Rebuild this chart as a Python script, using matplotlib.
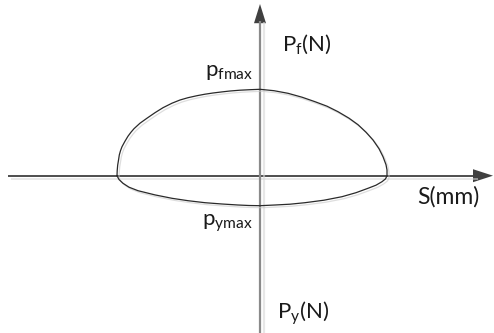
import matplotlib
matplotlib.use("Agg")
import matplotlib.pyplot as plt
import matplotlib.patheffects as pe

plt.rcParams['font.family'] = ['Lato', 'DejaVu Sans']
plt.rcParams['mathtext.fontset'] = 'custom'
plt.rcParams['mathtext.rm'] = 'Lato'
plt.rcParams['mathtext.it'] = 'Lato'

# Loop (S horizontal, force vertical; origin at axis crossing)
upper_s = [-143, -142.8, -142.3, -141.5, -140.7, -139.5, -138, -135, -132, -129, -126, -120, -113, -105,
           -97, -88, -80, -72, -63, -55, -47, -38, -30, -20, -10, 0,
           14, 28, 42, 55, 67, 78, 89, 98, 106, 113, 119, 123, 126, 127, 127]
upper_f = [0, 5, 10.7, 15.5, 20.7, 25, 29, 34.5, 39.5, 43.5, 47, 52.5, 57.5, 63,
           68, 72.5, 75.7, 78, 80, 81.5, 82.7, 83.8, 84.7, 85.5, 86, 86.4,
           85, 82.4, 78.5, 74, 69.5, 64, 57.5, 51, 43.5, 35.7, 27, 19, 11, 5.7, 0]
lower_s = [127, 125.5, 122, 116, 108, 96, 82, 64, 45, 30, 15, 0, -11, -22, -38, -55, -72, -88, -105, -122,
           -131, -137, -141, -143]
lower_f = [0, -3.2, -6, -9.5, -12.6, -17, -21, -24.5, -27, -28.5, -29.3, -30, -29.8, -29.3, -28.3, -27, -25,
           -22.6, -19.2, -15, -11.5, -7.6, -3.8, 0]

labels = {
    'pf': r'$\mathrm{P}_{\mathrm{f}}$(N)',
    'py': r'$\mathrm{P}_{\mathrm{y}}$(N)',
    's': 'S(mm)',
    'pfmax': r'$\mathrm{p}_{\mathrm{fmax}}$',
    'pymax': r'$\mathrm{p}_{\mathrm{ymax}}$',
}

fig = plt.figure(figsize=(4.94, 3.33), dpi=100)
ax = fig.add_axes([0, 0, 1, 1])
ax.set_xlim(-260, 234)
ax.set_ylim(-157.3, 175.7)
ax.axis('off')

px = 0.72  # points per pixel

# axes lines
ax.plot([-252, 215], [0, 0], color='#404040', lw=1.3, solid_capstyle='butt',
        path_effects=[pe.SimpleLineShadow(offset=(3 * px, -3.5 * px), shadow_color='#d8d8d8', alpha=0.6),
                      pe.Normal()])
ax.plot([0, 0], [-157.3, 155], color='#8a8a8a', lw=1.6, solid_capstyle='butt',
        path_effects=[pe.SimpleLineShadow(offset=(3.5 * px, -1 * px), shadow_color='#d8d8d8', alpha=0.6),
                      pe.Normal()])
# arrow heads
ax.fill([213, 233, 213], [6.5, 0, -6.5], color='#404040', lw=0)
ax.fill([-6, 0, 6], [152.5, 171.7, 152.5], color='#404040', lw=0)

# loop
ls = upper_s + lower_s[1:]
lf = upper_f + lower_f[1:]
ax.plot(ls, lf, color='#2a2a2a', lw=0.9, solid_joinstyle='round',
        path_effects=[pe.SimpleLineShadow(offset=(2 * px, -2 * px), shadow_color='#c8c8c8', alpha=0.6),
                      pe.Normal()])

fs = 16
ax.text(22, 131.5, labels['pf'], fontsize=fs, ha='left', va='center', color='#1a1a1a')
ax.text(17, -137.5, labels['py'], fontsize=fs, ha='left', va='center', color='#1a1a1a')
ax.text(157, -21.5, labels['s'], fontsize=fs + 0.5, ha='left', va='center', color='#1a1a1a')
ax.text(-7, 104, labels['pfmax'], fontsize=fs, ha='right', va='center', color='#1a1a1a')
ax.text(-7, -48, labels['pymax'], fontsize=fs, ha='right', va='center', color='#1a1a1a')

fig.savefig('out.png', dpi=100)
